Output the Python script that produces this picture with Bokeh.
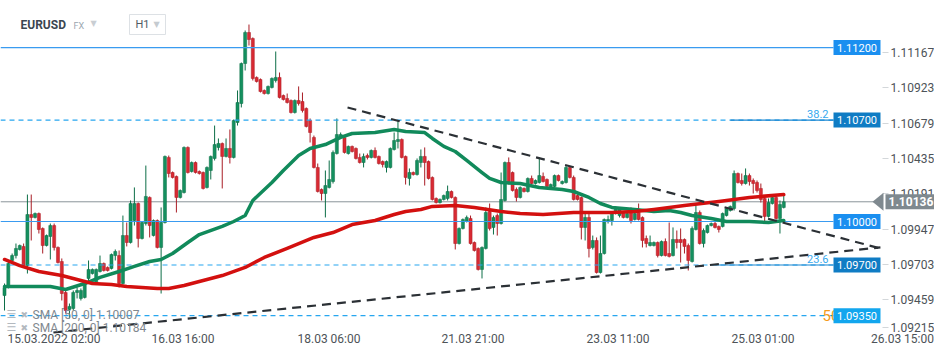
from bokeh.plotting import figure
from bokeh.models import (ColumnDataSource, LinearAxis, FixedTicker, PrintfTickFormatter,
                          Range1d, Label, PolyAnnotation, BoxAnnotation)
from bokeh.core.properties import value
from bokeh.embed import file_html
from bokeh.resources import INLINE

# ---------------- data (EURUSD, H1) ----------------
open_ = [
1.09489, 1.09545, 1.09731, 1.09765, 1.09807, 1.09828, 1.09696, 1.10048, 1.10028, 1.10055,
1.09952, 1.09834, 1.09897, 1.09972, 1.09821, 1.09724, 1.09510, 1.09393, 1.09400, 1.09510,
1.09469, 1.09476, 1.09607, 1.09641, 1.09572, 1.09655, 1.09710, 1.09683, 1.09676, 1.09765,
1.09765, 1.09572, 1.09903, 1.09855, 1.10007, 1.10124, 1.09883, 1.09986, 1.10166, 1.09903,
1.10007, 1.09821, 1.09993, 1.10442, 1.10338, 1.10311, 1.10166, 1.10200, 1.10511, 1.10345,
1.10407, 1.10345, 1.10338, 1.10235, 1.10352, 1.10435, 1.10511, 1.10538, 1.10449, 1.10504,
1.10442, 1.10683, 1.10814, 1.11090, 1.11304, 1.11263, 1.10994, 1.10980, 1.10904, 1.10883,
1.10925, 1.10973, 1.10994, 1.10869, 1.10849, 1.10835, 1.10752, 1.10835, 1.10828, 1.10780,
1.10697, 1.10580, 1.10373, 1.10221, 1.10193, 1.10235, 1.10276, 1.10469, 1.10580, 1.10580,
1.10469, 1.10518, 1.10504, 1.10442, 1.10407, 1.10455, 1.10442, 1.10490, 1.10449, 1.10414,
1.10373, 1.10373, 1.10497, 1.10552, 1.10566, 1.10449, 1.10297, 1.10338, 1.10324, 1.10407,
1.10449, 1.10414, 1.10304, 1.10159, 1.10131, 1.10152, 1.10159, 1.10207, 1.10166, 1.09848,
1.09952, 1.10000, 1.10021, 1.09855, 1.09814, 1.09669, 1.09814, 1.10069, 1.09959, 1.10041,
1.09986, 1.10145, 1.10407, 1.10338, 1.10221, 1.10166, 1.10228, 1.10207, 1.10297, 1.10262,
1.10269, 1.10311, 1.10290, 1.10235, 1.10242, 1.10317, 1.10262, 1.10269, 1.10373, 1.10304,
1.10179, 1.10166, 1.09959, 1.10028, 1.09821, 1.09869, 1.09648, 1.09779, 1.10000, 1.10007,
1.10055, 1.10041, 1.10062, 1.10028, 1.10076, 1.10014, 1.10062, 1.10028, 1.09883, 1.09834,
1.09834, 1.09855, 1.09765, 1.09862, 1.09779, 1.09765, 1.09876, 1.09876, 1.09876, 1.09834,
1.09724, 1.09945, 1.10062, 1.09848, 1.09924, 1.09972, 1.09986, 1.09966, 1.09966, 1.10041,
1.10076, 1.10090, 1.10331, 1.10283, 1.10262, 1.10317, 1.10283, 1.10269, 1.10228, 1.10159,
1.10035, 1.10124, 1.10166, 1.10021, 1.10097]

high = [
1.09572, 1.09731, 1.09779, 1.09848, 1.09841, 1.09848, 1.10186, 1.10186, 1.10062, 1.10062,
1.09959, 1.09910, 1.09986, 1.09986, 1.09828, 1.09745, 1.09524, 1.09434, 1.09524, 1.09545,
1.09538, 1.09593, 1.09731, 1.09676, 1.09676, 1.09765, 1.09717, 1.09690, 1.09779, 1.09807,
1.09800, 1.10041, 1.09993, 1.10145, 1.10235, 1.10131, 1.10000, 1.10386, 1.10173, 1.10014,
1.10014, 1.10097, 1.10455, 1.10455, 1.10345, 1.10317, 1.10221, 1.10518, 1.10518, 1.10414,
1.10414, 1.10352, 1.10345, 1.10380, 1.10455, 1.10662, 1.10573, 1.10545, 1.10573, 1.10635,
1.10704, 1.10904, 1.11097, 1.11318, 1.11359, 1.11270, 1.11001, 1.10987, 1.10911, 1.10938,
1.10994, 1.11173, 1.11028, 1.10876, 1.10883, 1.10842, 1.10842, 1.10932, 1.10890, 1.10787,
1.10711, 1.10593, 1.10400, 1.10228, 1.10352, 1.10421, 1.10490, 1.10711, 1.10614, 1.10593,
1.10524, 1.10524, 1.10511, 1.10469, 1.10469, 1.10469, 1.10497, 1.10511, 1.10455, 1.10421,
1.10421, 1.10511, 1.10614, 1.10697, 1.10573, 1.10455, 1.10366, 1.10345, 1.10435, 1.10497,
1.10511, 1.10421, 1.10311, 1.10166, 1.10159, 1.10186, 1.10248, 1.10214, 1.10173, 1.09959,
1.10021, 1.10041, 1.10041, 1.09862, 1.09821, 1.09828, 1.10097, 1.10124, 1.10041, 1.10055,
1.10338, 1.10414, 1.10442, 1.10345, 1.10235, 1.10242, 1.10235, 1.10304, 1.10317, 1.10290,
1.10442, 1.10338, 1.10297, 1.10262, 1.10324, 1.10324, 1.10283, 1.10386, 1.10380, 1.10317,
1.10186, 1.10173, 1.10055, 1.10055, 1.09903, 1.09890, 1.09903, 1.10021, 1.10041, 1.10062,
1.10104, 1.10097, 1.10069, 1.10062, 1.10097, 1.10062, 1.10124, 1.10035, 1.09903, 1.09903,
1.09862, 1.09862, 1.09869, 1.09883, 1.09993, 1.09959, 1.09938, 1.09952, 1.09883, 1.09848,
1.09966, 1.10110, 1.10076, 1.09952, 1.09979, 1.09993, 1.10000, 1.09972, 1.10062, 1.10097,
1.10110, 1.10352, 1.10338, 1.10331, 1.10366, 1.10331, 1.10297, 1.10283, 1.10262, 1.10166,
1.10159, 1.10179, 1.10173, 1.10145, 1.10193]

low = [
1.09386, 1.09538, 1.09717, 1.09745, 1.09800, 1.09683, 1.09641, 1.09869, 1.10021, 1.09917,
1.09779, 1.09828, 1.09738, 1.09800, 1.09710, 1.09455, 1.09365, 1.09331, 1.09386, 1.09469,
1.09455, 1.09469, 1.09572, 1.09634, 1.09565, 1.09648, 1.09655, 1.09655, 1.09669, 1.09731,
1.09545, 1.09565, 1.09828, 1.09848, 1.09972, 1.09821, 1.09876, 1.09972, 1.09890, 1.09897,
1.09814, 1.09503, 1.09986, 1.10304, 1.10297, 1.10062, 1.10159, 1.10193, 1.10331, 1.10338,
1.10331, 1.10324, 1.10221, 1.10228, 1.10290, 1.10421, 1.10490, 1.10228, 1.10442, 1.10400,
1.10435, 1.10662, 1.10787, 1.11042, 1.11214, 1.10973, 1.10959, 1.10890, 1.10876, 1.10876,
1.10918, 1.10959, 1.10849, 1.10835, 1.10814, 1.10745, 1.10745, 1.10800, 1.10752, 1.10649,
1.10545, 1.10366, 1.10200, 1.10145, 1.10028, 1.10228, 1.10262, 1.10462, 1.10573, 1.10469,
1.10462, 1.10476, 1.10428, 1.10400, 1.10373, 1.10428, 1.10435, 1.10435, 1.10393, 1.10373,
1.10338, 1.10366, 1.10490, 1.10504, 1.10435, 1.10255, 1.10248, 1.10317, 1.10317, 1.10373,
1.10248, 1.10290, 1.10145, 1.10124, 1.10124, 1.10145, 1.10145, 1.10159, 1.09807, 1.09841,
1.09945, 1.09993, 1.09841, 1.09793, 1.09662, 1.09607, 1.09807, 1.09938, 1.09910, 1.09903,
1.09979, 1.10138, 1.10255, 1.10207, 1.10138, 1.10159, 1.10200, 1.10200, 1.10255, 1.10255,
1.10262, 1.10269, 1.10235, 1.10228, 1.10235, 1.10276, 1.10255, 1.10262, 1.10297, 1.10145,
1.10145, 1.09876, 1.09869, 1.09752, 1.09807, 1.09641, 1.09641, 1.09772, 1.09986, 1.09972,
1.10048, 1.10028, 1.10021, 1.10021, 1.09986, 1.10007, 1.10007, 1.09821, 1.09821, 1.09828,
1.09828, 1.09752, 1.09759, 1.09759, 1.09752, 1.09759, 1.09814, 1.09717, 1.09779, 1.09662,
1.09717, 1.09938, 1.09841, 1.09821, 1.09917, 1.09966, 1.09952, 1.09924, 1.09959, 1.10035,
1.10069, 1.10076, 1.10262, 1.10248, 1.10255, 1.10248, 1.10193, 1.10200, 1.10131, 1.10000,
1.10028, 1.10117, 1.10014, 1.09917, 1.10090]

close = [
1.09545, 1.09710, 1.09765, 1.09814, 1.09834, 1.09696, 1.10048, 1.10028, 1.10055, 1.09945,
1.09834, 1.09903, 1.09972, 1.09821, 1.09717, 1.09503, 1.09386, 1.09414, 1.09510, 1.09524,
1.09524, 1.09586, 1.09669, 1.09669, 1.09669, 1.09710, 1.09662, 1.09662, 1.09772, 1.09793,
1.09572, 1.09903, 1.09855, 1.10124, 1.10124, 1.09883, 1.09993, 1.10173, 1.09972, 1.10007,
1.09821, 1.09993, 1.10449, 1.10331, 1.10304, 1.10166, 1.10214, 1.10511, 1.10338, 1.10407,
1.10338, 1.10331, 1.10228, 1.10373, 1.10449, 1.10531, 1.10538, 1.10449, 1.10504, 1.10442,
1.10697, 1.10821, 1.11090, 1.11304, 1.11256, 1.10987, 1.10966, 1.10897, 1.10883, 1.10932,
1.10987, 1.10994, 1.10856, 1.10842, 1.10821, 1.10752, 1.10835, 1.10814, 1.10766, 1.10656,
1.10614, 1.10373, 1.10207, 1.10193, 1.10248, 1.10290, 1.10476, 1.10600, 1.10600, 1.10476,
1.10518, 1.10483, 1.10435, 1.10407, 1.10449, 1.10442, 1.10490, 1.10442, 1.10400, 1.10393,
1.10414, 1.10504, 1.10559, 1.10566, 1.10442, 1.10304, 1.10338, 1.10324, 1.10421, 1.10449,
1.10407, 1.10297, 1.10152, 1.10131, 1.10152, 1.10179, 1.10207, 1.10166, 1.09848, 1.09952,
1.10014, 1.10028, 1.09848, 1.09800, 1.09669, 1.09821, 1.10062, 1.09952, 1.10028, 1.09986,
1.10152, 1.10407, 1.10262, 1.10214, 1.10166, 1.10235, 1.10207, 1.10297, 1.10262, 1.10283,
1.10317, 1.10276, 1.10242, 1.10255, 1.10317, 1.10283, 1.10276, 1.10373, 1.10304, 1.10152,
1.10152, 1.09959, 1.10028, 1.09814, 1.09869, 1.09648, 1.09779, 1.10014, 1.10014, 1.10055,
1.10090, 1.10090, 1.10028, 1.10055, 1.10007, 1.10055, 1.10014, 1.09869, 1.09848, 1.09855,
1.09855, 1.09765, 1.09862, 1.09765, 1.09759, 1.09876, 1.09855, 1.09855, 1.09828, 1.09731,
1.09952, 1.10062, 1.09848, 1.09938, 1.09972, 1.09986, 1.09959, 1.09945, 1.10055, 1.10090,
1.10104, 1.10331, 1.10269, 1.10262, 1.10317, 1.10276, 1.10262, 1.10214, 1.10152, 1.10035,
1.10131, 1.10166, 1.10021, 1.10117, 1.10136]

sma50_idx = [0, 12, 16, 21, 25, 30, 34, 38, 41, 44, 48, 51, 57, 60, 63, 65, 70, 73, 77, 80,
             84, 88, 91, 97, 102, 105, 110, 112, 115, 118, 121, 125, 127, 130, 135, 140, 146,
             149, 153, 156, 159, 165, 170, 174, 177, 180, 185, 189, 195, 200, 204]
sma50 = [1.09552, 1.09552, 1.09531, 1.09572, 1.09614, 1.09655, 1.09690, 1.09724, 1.09738, 1.09779,
         1.09855, 1.09910, 1.09966, 1.10000, 1.10041, 1.10145, 1.10269, 1.10352, 1.10455, 1.10504,
         1.10531, 1.10580, 1.10607, 1.10614, 1.10635, 1.10621, 1.10614, 1.10573, 1.10518, 1.10483,
         1.10421, 1.10338, 1.10297, 1.10269, 1.10262, 1.10235, 1.10221, 1.10207, 1.10166, 1.10124,
         1.10097, 1.10083, 1.10069, 1.10076, 1.10062, 1.10041, 1.10021, 1.10000, 1.10000, 1.09993,
         1.10007]

sma200_idx = [0, 4, 9, 15, 19, 23, 28, 32, 36, 40, 43, 47, 51, 57, 63, 68, 74, 81, 86, 91,
              97, 102, 105, 109, 112, 118, 123, 130, 135, 141, 149, 159, 165, 170, 178, 187, 195, 204]
sma200 = [1.09738, 1.09696, 1.09655, 1.09627, 1.09600, 1.09572, 1.09565, 1.09552, 1.09545, 1.09538,
          1.09538, 1.09558, 1.09586, 1.09627, 1.09683, 1.09752, 1.09814, 1.09890, 1.09924, 1.09979,
          1.10007, 1.10048, 1.10069, 1.10083, 1.10104, 1.10110, 1.10097, 1.10069, 1.10055, 1.10048,
          1.10062, 1.10062, 1.10069, 1.10083, 1.10110, 1.10138, 1.10166, 1.10186]

trend_upper_x = [89.8, 229.3]
trend_upper_y = [1.10787, 1.09814]
trend_lower_x = [12.8, 229.3]
trend_lower_y = [1.09234, 1.09821]

levels = [1.11200, 1.10700, 1.10000, 1.09700, 1.09350]
level_text = ["1.11200", "1.10700", "1.10000", "1.09700", "1.09350"]
fib_text = ["38.2", "23.6", "50.0"]
last_price = 1.10136
sma_legend = ["SMA [50, 0] 1.10007", "SMA [200, 0] 1.10184"]

ytick_values = [1.09459, 1.09703, 1.09947, 1.10191, 1.10435, 1.10679, 1.10923, 1.11167]
ytick_bottom_label = "1.09215"
xtick_labels = ["15.03.2022 02:00", "16.03 16:00", "18.03 06:00", "21.03 21:00",
                "23.03 11:00", "25.03 01:00", "26.03 15:00"]

# ---------------- layout helpers (positions in screen pixels) ----------------
FONT = "Roboto"
W, H = 934, 344
PX = 3.82          # pixels per candle
PP = 0.000069      # price per pixel
X0 = -4 / PX
X1 = X0 + W / PX
Y1 = 1.1 + 221 * PP
Y0 = 1.1 - (H - 221) * PP


def px(sx):
    return X0 + sx / PX


def py(sy):
    return 1.1 + (221 - sy) * PP


GREEN, GREEN_D = "#14905f", "#0c6e47"
RED, RED_D = "#d92a33", "#a91d25"
AXIS_TXT = "#4d5358"

p = figure(width=W, height=H, x_range=Range1d(X0, X1), y_range=Range1d(Y0, Y1),
           output_backend="svg", toolbar_location=None, y_axis_location=None,
           min_border=0, outline_line_color=None,
           background_fill_color="white", border_fill_color="white")
p.xgrid.visible = False
p.ygrid.visible = False

# bottom time axis, drawn at a fixed place inside the canvas
xtick_centers = [53.5, 182.5, 328.5, 472.5, 617.5, 762.5, 902]
xt = [px(c) for c in xtick_centers]
xa = p.xaxis[0]
xa.fixed_location = py(331)
xa.ticker = FixedTicker(ticks=xt)
xa.major_label_overrides = {t: s for t, s in zip(xt, xtick_labels)}
xa.axis_line_color = None
xa.major_tick_line_color = None
xa.minor_tick_line_color = None
xa.major_tick_out = 0
xa.major_tick_in = 0
xa.major_label_standoff = 0
xa.major_label_text_font = FONT
xa.major_label_text_font_size = "12px"
xa.major_label_text_color = AXIS_TXT

# right price axis
yt = ytick_values + [py(327)]
ya = LinearAxis(ticker=FixedTicker(ticks=yt), formatter=PrintfTickFormatter(format="%.5f"),
                major_label_overrides={py(327): ytick_bottom_label},
                fixed_location=px(882), axis_line_color=None,
                major_tick_line_color="#d3d7da", major_tick_out=6, major_tick_in=0,
                minor_tick_line_color=None, major_label_standoff=2,
                major_label_text_font=FONT, major_label_text_font_size="12px",
                major_label_text_color=AXIS_TXT)
p.add_layout(ya, "right")

# current price line
p.segment(x0=[px(0)], y0=[last_price], x1=[px(874)], y1=[last_price], line_color="#8a949a", line_width=1)

# candles
n = min(len(open_), len(high), len(low), len(close))
up = [close[i] >= open_[i] for i in range(n)]
src = ColumnDataSource(dict(
    x=list(range(n)), o=open_[:n], h=high[:n], l=low[:n], c=close[:n],
    top=[max(open_[i], close[i]) for i in range(n)],
    bot=[min(open_[i], close[i]) for i in range(n)],
    fill=[GREEN if u else RED for u in up],
    edge=[GREEN_D if u else RED_D for u in up]))
p.segment(x0="x", y0="h", x1="x", y1="l", source=src, line_color="edge", line_width=1)
p.vbar(x="x", width=0.8, top="top", bottom="bot", source=src,
       fill_color="fill", line_color="edge", line_width=0.5)

# horizontal levels
p.segment(x0=[px(0), px(0)], y0=[levels[0], levels[2]], x1=[px(833), px(833)],
          y1=[levels[0], levels[2]], line_color="#3a9bf0", line_width=1.2)
p.segment(x0=[px(0)] * 3, y0=[levels[1], levels[3], levels[4]], x1=[px(833)] * 3,
          y1=[levels[1], levels[3], levels[4]], line_color="#27a6ef", line_width=1.2,
          line_dash="5 4")
p.segment(x0=[px(730), px(715)], y0=[levels[1], levels[3]], x1=[px(833), px(833)],
          y1=[levels[1], levels[3]], line_color="#1a86d0", line_width=1.2)

# moving averages
p.line(sma50_idx, sma50, line_color="#118a5b", line_width=3.5, line_join="round", line_cap="round")
p.line(sma200_idx, sma200, line_color="#d3100f", line_width=3.5, line_join="round", line_cap="round")

# trend lines
p.line(trend_upper_x, trend_upper_y, line_color="#2b3035", line_width=2.2, line_dash="9 6")
p.line(trend_lower_x, trend_lower_y, line_color="#2b3035", line_width=2.2, line_dash="9 6")

# fib labels
p.text(x=[px(828), px(828)], y=[levels[1] + 6 * PP, levels[3] + 6 * PP], text=fib_text[:2],
       text_align="right", text_baseline="middle", text_color="#36a9ee",
       text_font=value(FONT), text_font_size="11px")
p.text(x=[px(822)], y=[levels[4]], text=[fib_text[2]], text_align="left", text_baseline="middle",
       text_color="#f59b1b", text_font=value(FONT), text_font_size="15px")

# level boxes
box_colors = ["#1a8ff0", "#0f7cc4", "#1a8ff0", "#0f7cc4", "#12a6ee"]
p.rect(x=[px(856.5)] * 5, y=levels, width=47, height=15, width_units="screen",
       height_units="screen", fill_color=box_colors, line_color=None)
p.text(x=[px(856.5)] * 5, y=levels, text=level_text, text_align="center", text_baseline="middle",
       text_color="white", text_font=value(FONT), text_font_size="11px")

# current price tag
p.add_layout(PolyAnnotation(xs=[px(872), px(883), px(883)],
                            ys=[last_price, last_price + 9 * PP, last_price - 9 * PP],
                            fill_color="#7f898f", fill_alpha=1.0, line_color=None))
p.add_layout(Label(x=px(885), y=last_price, text=f"{last_price:.5f}", text_align="left",
                   text_baseline="middle", text_color="white", text_font=FONT,
                   text_font_size="12px", text_font_style="bold",
                   background_fill_color="#7f898f", padding=3))

# header
p.add_layout(Label(x=px(20), y=py(24), text="EURUSD", text_align="left", text_baseline="middle",
                   text_color="#3b4650", text_font=FONT, text_font_size="12px",
                   text_font_style="bold"))
p.add_layout(Label(x=px(73), y=py(25), text="FX", text_align="left", text_baseline="middle",
                   text_color="#9aa6b0", text_font=FONT, text_font_size="9px"))
p.add_layout(Label(x=px(90), y=py(23), text="▼", text_align="left", text_baseline="middle",
                   text_color="#c9ced3", text_font="DejaVu Sans", text_font_size="8px"))
p.add_layout(BoxAnnotation(left=px(129), right=px(165), top=py(14), bottom=py(34),
                           fill_color="white", fill_alpha=1.0, line_color="#dde1e5",
                           line_width=1, line_alpha=1.0))
p.add_layout(Label(x=px(135), y=py(24), text="H1", text_align="left", text_baseline="middle",
                   text_color="#505a63", text_font=FONT, text_font_size="11px"))
p.add_layout(Label(x=px(153), y=py(24), text="▼", text_align="left", text_baseline="middle",
                   text_color="#c5cbd0", text_font="DejaVu Sans", text_font_size="8px"))

# SMA legend
for k, yy in enumerate([314, 327]):
    p.add_layout(Label(x=px(6), y=py(yy), text="☰", text_align="left", text_baseline="middle",
                       text_color="#b3b9bf", text_font="DejaVu Sans", text_font_size="11px"))
    p.add_layout(Label(x=px(20), y=py(yy), text="✖", text_align="left", text_baseline="middle",
                       text_color="#b3b9bf", text_font="DejaVu Sans", text_font_size="9px"))
    p.add_layout(Label(x=px(32), y=py(yy), text=sma_legend[k], text_align="left",
                       text_baseline="middle", text_color="#80878e", text_font=FONT,
                       text_font_size="12px"))

open("out.html", "w").write(file_html(p, INLINE))
